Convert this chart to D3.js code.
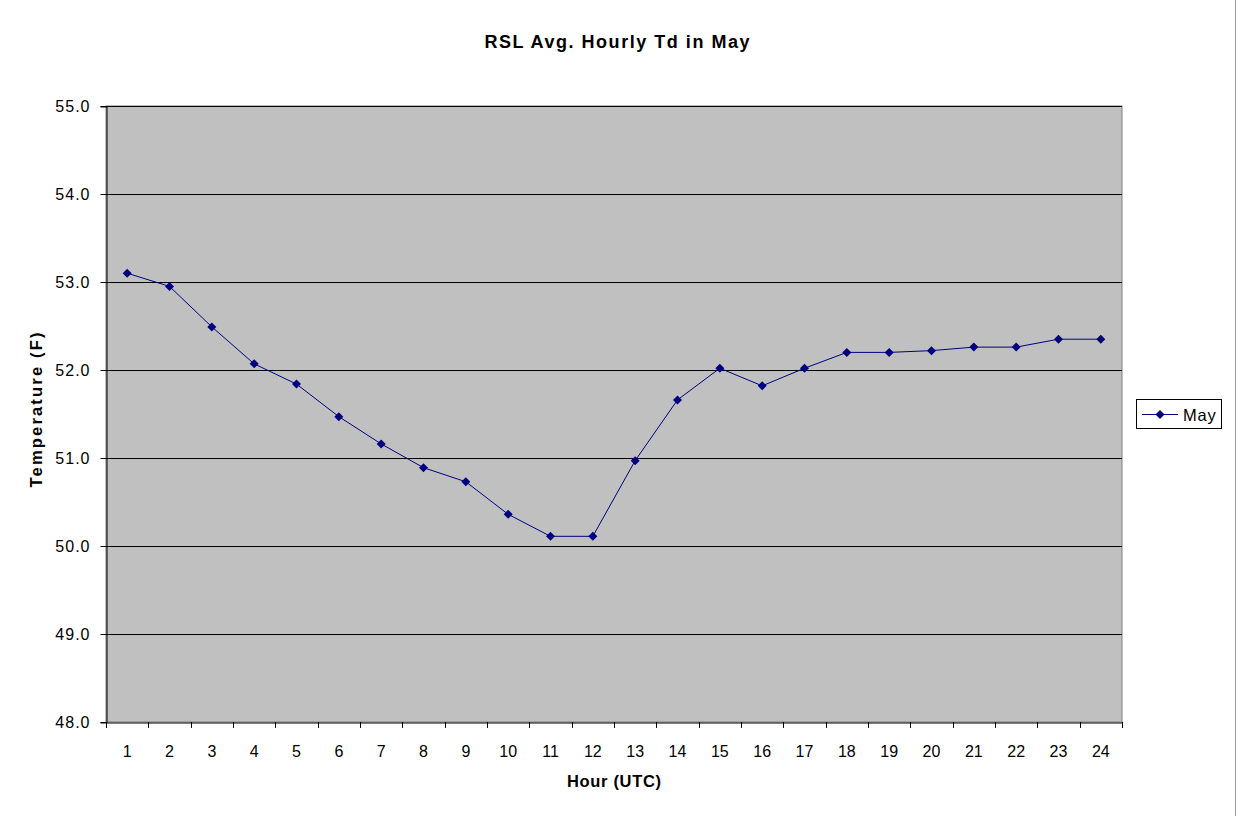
<!DOCTYPE html>
<html><head><meta charset="utf-8">
<script src="https://cdn.jsdelivr.net/npm/d3@7"></script>
<style>body{margin:0;background:#fff}svg{display:block}text{font-family:Arial,"Liberation Sans",sans-serif}</style>
</head><body>
<svg id="c" width="1236" height="816"></svg>
<script>
const hours = ["1","2","3","4","5","6","7","8","9","10","11","12","13","14","15","16","17","18","19","20","21","22","23","24"];
const mayTd = [53.10,52.95,52.49,52.07,51.84,51.47,51.16,50.89,50.73,50.36,50.11,50.11,50.97,51.66,52.02,51.82,52.02,52.20,52.20,52.22,52.26,52.26,52.35,52.35];
const yTicks = [48,49,50,51,52,53,54,55];
const seriesName = "May";

const svg = d3.select("#c");
const L=106, R=1122, T=106, B=722;
const x = d3.scaleBand().domain(hours).range([L,R]);
const y = d3.scaleLinear().domain([48,55]).range([B,T]);

svg.append("line").attr("x1",1235.5).attr("x2",1235.5).attr("y1",0).attr("y2",816).attr("stroke","#9a9a9a").attr("stroke-width",1);

svg.append("rect").attr("x",L).attr("y",T).attr("width",R-L).attr("height",B-T).attr("fill","#c0c0c0").attr("stroke","#808080").attr("stroke-width",1);

svg.append("g").selectAll("line").data(yTicks.slice(1)).join("line")
  .attr("x1",L).attr("x2",R).attr("y1",d=>Math.round(y(d))+0.5).attr("y2",d=>Math.round(y(d))+0.5)
  .attr("stroke","#000").attr("stroke-width",1);

const yAxis = svg.append("g").attr("transform",`translate(${L+0.5},0.5)`)
  .call(d3.axisLeft(y).tickValues(yTicks).tickFormat(d3.format(".1f")).tickSize(6).tickPadding(10));
yAxis.select(".domain").attr("stroke","#000");
yAxis.selectAll("text").attr("font-size",16).attr("letter-spacing","1px").attr("fill","#000").attr("dy","0.36em");
yAxis.selectAll(".tick").attr("transform",d=>`translate(0,${Math.round(y(d))})`);

const xAxis = svg.append("g").attr("transform",`translate(0,${B+0.5})`)
  .call(d3.axisBottom(x).tickSize(0).tickPadding(23));
xAxis.select(".domain").attr("stroke","#000");
xAxis.selectAll("text").attr("font-size",16).attr("fill","#000");
svg.append("g").selectAll("line").data(hours.concat(["end"])).join("line")
  .attr("x1",(d,i)=>Math.round(L+i*x.step())+0.5).attr("x2",(d,i)=>Math.round(L+i*x.step())+0.5)
  .attr("y1",B).attr("y2",B+6).attr("stroke","#000");

const line = d3.line().x((d,i)=>x(hours[i])+x.bandwidth()/2).y(d=>y(d));
svg.append("path").datum(mayTd).attr("d",line).attr("fill","none").attr("stroke","#000080").attr("stroke-width",1);

const dia = "M0,-4.5L4.5,0L0,4.5L-4.5,0Z";
svg.append("g").selectAll("path").data(mayTd).join("path")
  .attr("d",dia).attr("fill","#000080")
  .attr("transform",(d,i)=>`translate(${x(hours[i])+x.bandwidth()/2},${y(d)})`);

svg.append("text").attr("x",617).attr("y",48).attr("text-anchor","middle").attr("font-size",18).attr("font-weight","bold")
  .attr("textLength",265).attr("lengthAdjust","spacing").text("RSL Avg. Hourly Td in May");
svg.append("text").attr("x",614).attr("y",787).attr("text-anchor","middle").attr("font-size",16.5).attr("font-weight","bold")
  .attr("textLength",94).attr("lengthAdjust","spacing").text("Hour (UTC)");
svg.append("text").attr("transform","translate(42,410) rotate(-90)").attr("text-anchor","middle").attr("font-size",16.5).attr("font-weight","bold")
  .attr("textLength",155).attr("lengthAdjust","spacing").text("Temperature (F)");

const lg = svg.append("g");
lg.append("rect").attr("x",1136.5).attr("y",399.5).attr("width",85).attr("height",29).attr("fill","#fff").attr("stroke","#000");
lg.append("line").attr("x1",1142).attr("x2",1178).attr("y1",414.5).attr("y2",414.5).attr("stroke","#000080");
lg.append("path").attr("d",dia).attr("fill","#000080").attr("transform","translate(1160,414.5)");
lg.append("text").attr("x",1183).attr("y",420.5).attr("font-size",16.5).attr("letter-spacing","0.8px").text(seriesName);
</script>
</body></html>
